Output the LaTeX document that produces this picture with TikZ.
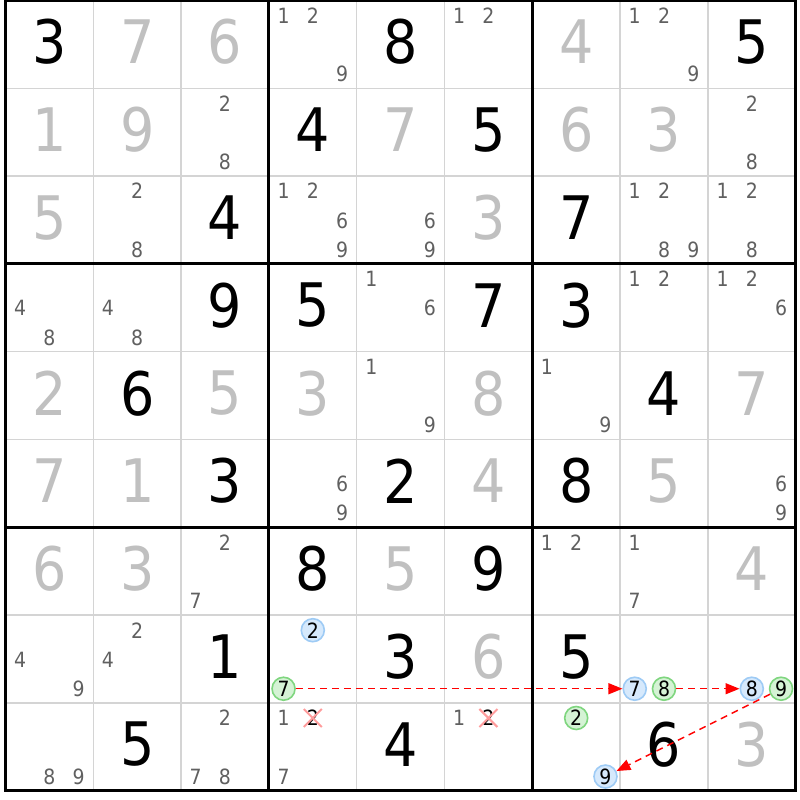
\documentclass[tikz,border=0pt]{standalone}
\usepackage{fontspec}
\setmainfont{DejaVu Sans Condensed}
\usetikzlibrary{arrows.meta,shapes.misc}
\definecolor{thinline}{HTML}{D4D4D4}
\definecolor{solved}{HTML}{C0C0C0}
\definecolor{cand}{HTML}{606060}
\definecolor{bfill}{HTML}{D6E9FC}
\definecolor{bline}{HTML}{9ECBF5}
\definecolor{gfill}{HTML}{D5F3D5}
\definecolor{gline}{HTML}{7FD67F}
\definecolor{xpink}{HTML}{FF9C9C}
\newcommand\setcand[3]{%
  \pgfmathsetmacro\candx{5.5+(#2-1)*87.8+14.633+mod(#3-1,3)*29.267}%
  \pgfmathsetmacro\candy{0.5+(#1-1)*87.8+15.1+floor((#3-1)/3)*29.267}}
\tikzset{
  big/.style={font=\fontsize{60bp}{60bp}\selectfont, inner sep=0pt},
  given/.style={big, text=black},
  solveddigit/.style={big, text=solved},
  canddigit/.style={font=\fontsize{21bp}{21bp}\selectfont, inner sep=0pt, text=cand},
  hl/.style={font=\fontsize{21bp}{21bp}\selectfont, inner sep=0pt, text=black},
  bluec/.style={hl, circle, minimum size=23bp, draw=bline, fill=bfill, line width=1.6bp},
  greenc/.style={hl, circle, minimum size=23bp, draw=gline, fill=gfill, line width=1.6bp},
  crossed/.style={hl, cross out, minimum size=16bp, draw=xpink, line width=2bp},
  chain/.style={red, dash pattern=on 7bp off 5bp, line width=1.4bp, -{Triangle[length=14bp,width=11bp]}},
  thingrid/.style={thinline, line width=1.4bp},
  thickgrid/.style={black, line width=3bp},
}
\begin{document}
\begin{tikzpicture}[x=1bp,y=-1bp]
\fill[white] (0,0) rectangle (800,800);
\useasboundingbox (0,0) rectangle (800,800);
% thin lines
\foreach \i in {1,2,4,5,7,8}{
  \draw[thingrid] ({5.5+\i*87.8},0.5) -- ({5.5+\i*87.8},790.7);
  \draw[thingrid] (5.5,{0.5+\i*87.8}) -- (795.7,{0.5+\i*87.8});
}
% thick lines
\foreach \i in {3,6}{
  \draw[thickgrid] ({5.5+\i*87.8},0.5) -- ({5.5+\i*87.8},790.7);
  \draw[thickgrid] (5.5,{0.5+\i*87.8}) -- (795.7,{0.5+\i*87.8});
}
\draw[thickgrid] (5.5,0.5) rectangle (795.7,790.7);
% givens
\foreach \r/\c/\d in {1/1/3,1/5/8,1/9/5,2/4/4,2/6/5,3/3/4,3/7/7,4/3/9,4/4/5,4/6/7,4/7/3,
  5/2/6,5/8/4,6/3/3,6/5/2,6/7/8,7/4/8,7/6/9,8/3/1,8/5/3,8/7/5,9/2/5,9/5/4,9/8/6}{
  \node[given] (g\r\c) at ({5.5+(\c-0.5)*87.8},{0.5+(\r-1)*87.8+41.5}) {\d};
}
% solved
\foreach \r/\c/\d in {1/2/7,1/3/6,1/7/4,2/1/1,2/2/9,2/5/7,2/7/6,2/8/3,3/1/5,3/6/3,
  5/1/2,5/3/5,5/4/3,5/6/8,5/9/7,6/1/7,6/2/1,6/6/4,6/8/5,7/1/6,7/2/3,7/5/5,7/9/4,8/6/6,9/9/3}{
  \node[solveddigit] (s\r\c) at ({5.5+(\c-0.5)*87.8},{0.5+(\r-1)*87.8+41.5}) {\d};
}
% candidates
\foreach \r/\c/\d in {1/4/1,1/4/2,1/4/9,1/6/1,1/6/2,1/8/1,1/8/2,1/8/9,2/3/2,2/3/8,2/9/2,2/9/8,
  3/2/2,3/2/8,3/4/1,3/4/2,3/4/6,3/4/9,3/5/6,3/5/9,3/8/1,3/8/2,3/8/8,3/8/9,3/9/1,3/9/2,3/9/8,
  4/1/4,4/1/8,4/2/4,4/2/8,4/5/1,4/5/6,4/8/1,4/8/2,4/9/1,4/9/2,4/9/6,5/5/1,5/5/9,5/7/1,5/7/9,
  6/4/6,6/4/9,6/9/6,6/9/9,7/3/2,7/3/7,7/7/1,7/7/2,7/8/1,7/8/7,8/1/4,8/1/9,8/2/2,8/2/4,
  9/1/8,9/1/9,9/3/2,9/3/7,9/3/8,9/4/1,9/4/7,9/6/1}{
  \setcand{\r}{\c}{\d}
  \node[canddigit] (c\r\c\d) at (\candx,\candy) {\d};
}
% eliminated candidates
\setcand{9}{4}{2}\node[crossed] (c942) at (\candx,\candy) {2};
\setcand{9}{6}{2}\node[crossed] (c962) at (\candx,\candy) {2};
% chain candidates
\setcand{8}{4}{2}\node[bluec] (c842) at (\candx,\candy) {2};
\setcand{8}{4}{7}\node[greenc] (c847) at (\candx,\candy) {7};
\setcand{8}{8}{7}\node[bluec] (c887) at (\candx,\candy) {7};
\setcand{8}{8}{8}\node[greenc] (c888) at (\candx,\candy) {8};
\setcand{8}{9}{8}\node[bluec] (c898) at (\candx,\candy) {8};
\setcand{8}{9}{9}\node[greenc] (c899) at (\candx,\candy) {9};
\setcand{9}{7}{2}\node[greenc] (c972) at (\candx,\candy) {2};
\setcand{9}{7}{9}\node[bluec] (c979) at (\candx,\candy) {9};
% chain links
\draw[chain] (c847) -- (c887);
\draw[chain] (c888) -- (c898);
\draw[chain] (c899) -- (c979);
\end{tikzpicture}
\end{document}
